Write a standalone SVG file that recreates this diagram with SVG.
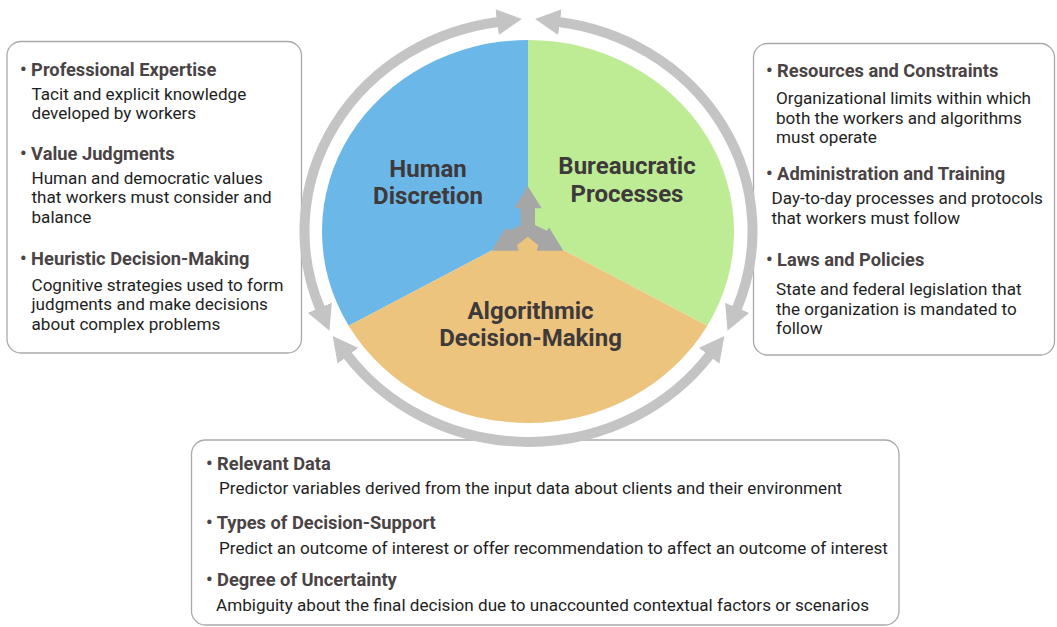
<svg xmlns="http://www.w3.org/2000/svg" width="1057" height="627" viewBox="0 0 1057 627">
<defs>
<style>
.box{fill:#FFFFFF;stroke:#A9A9A9;stroke-width:1.3}
.h{font-family:Roboto,"Liberation Sans",sans-serif;font-weight:bold;font-size:18.3px;fill:#4A4345}
.b{font-family:Roboto,"Liberation Sans",sans-serif;font-size:17.1px;fill:#1E1E1E}
.lab{font-family:Roboto,"Liberation Sans",sans-serif;font-weight:bold;font-size:24px;fill:#3E393B;text-anchor:middle}
.ring{fill:none;stroke:#C4C4C4;stroke-width:10;marker-start:url(#ah);marker-end:url(#ah)}
</style>
<marker id="ah" markerUnits="userSpaceOnUse" viewBox="0 0 25 26" markerWidth="25" markerHeight="26" refX="1" refY="13" orient="auto-start-reverse">
<path d="M0,0 L25,13 L0,26 Z" fill="#C4C4C4"/>
</marker>
</defs>
<rect width="1057" height="627" fill="#FFFFFF"/>

<g id="human-box">
<rect class="box" x="7" y="41.5" width="294.5" height="311.5" rx="14"/>
<text class="h" x="20" y="76">• Professional Expertise</text>
<text class="b" x="31.5" y="99.5">Tacit and explicit knowledge</text>
<text class="b" x="31.5" y="119">developed by workers</text>
<text class="h" x="20" y="160">• Value Judgments</text>
<text class="b" x="31.5" y="183.5">Human and democratic values</text>
<text class="b" x="31.5" y="203">that workers must consider and</text>
<text class="b" x="31.5" y="222.5">balance</text>
<text class="h" x="20" y="265">• Heuristic Decision-Making</text>
<text class="b" x="31.5" y="290.5">Cognitive strategies used to form</text>
<text class="b" x="31.5" y="310">judgments and make decisions</text>
<text class="b" x="31.5" y="329.5">about complex problems</text>
</g>

<g id="bureaucratic-box">
<rect class="box" x="753.5" y="43.5" width="301" height="311.5" rx="14"/>
<text class="h" x="766" y="77">• Resources and Constraints</text>
<text class="b" x="776" y="104">Organizational limits within which</text>
<text class="b" x="776" y="123.5">both the workers and algorithms</text>
<text class="b" x="776" y="143">must operate</text>
<text class="h" x="766" y="179.5">• Administration and Training</text>
<text class="b" x="771.5" y="204">Day-to-day processes and protocols</text>
<text class="b" x="771.5" y="223.5">that workers must follow</text>
<text class="h" x="766" y="266">• Laws and Policies</text>
<text class="b" x="776" y="295">State and federal legislation that</text>
<text class="b" x="776" y="314.5">the organization is mandated to</text>
<text class="b" x="776" y="334">follow</text>
</g>

<g id="algorithmic-box">
<rect class="box" x="191.5" y="440" width="707.5" height="185" rx="14"/>
<text class="h" x="206" y="469.5">• Relevant Data</text>
<text class="b" x="219" y="494">Predictor variables derived from the input data about clients and their environment</text>
<text class="h" x="206" y="528.5">• Types of Decision-Support</text>
<text class="b" x="219" y="553.5">Predict an outcome of interest or offer recommendation to affect an outcome of interest</text>
<text class="h" x="206" y="586">• Degree of Uncertainty</text>
<text class="b" x="216" y="610.5">Ambiguity about the final decision due to unaccounted contextual factors or scenarios</text>
</g>

<g id="human-discretion">
<path d="M528,231.5 L528,40 A206,191.5 0 0 0 348.7,325.8 Z" fill="#6BB8E8"/>
<text class="lab" x="428" y="177">Human</text>
<text class="lab" x="428" y="204">Discretion</text>
</g>
<g id="bureaucratic-processes">
<path d="M528,231.5 L528,40 A206,191.5 0 0 1 707.3,325.8 Z" fill="#BEEC94"/>
<text class="lab" x="627" y="174">Bureaucratic</text>
<text class="lab" x="627" y="201.5">Processes</text>
</g>
<g id="algorithmic-decision-making">
<path d="M528,231.5 L348.7,325.8 A206,191.5 0 0 0 707.3,325.8 Z" fill="#EDC47D"/>
<text class="lab" x="530.5" y="318.5">Algorithmic</text>
<text class="lab" x="530.5" y="346">Decision-Making</text>
</g>

<g id="connectors">
<polygon points="527.7,186 541.7,208.3 535,208.3 535,225 546.7,230.7 549.3,227.7 563.3,250.7 536.7,250.7 538.3,245.3 527.7,236.7 517,245.3 518.7,250.7 491.7,250.7 505.7,227.7 508.3,230.7 520.7,225 520.7,208.3 514.3,208.3" fill="#A6A6A6"/>
<path class="ring" d="M498.1,22 A224,211 0 0 0 320.2,308.7"/>
<path class="ring" d="M558.9,22 A224,211 0 0 1 736.8,308.7"/>
<path class="ring" d="M347.3,355 A224,211 0 0 0 709.7,355"/>
</g>
</svg>
